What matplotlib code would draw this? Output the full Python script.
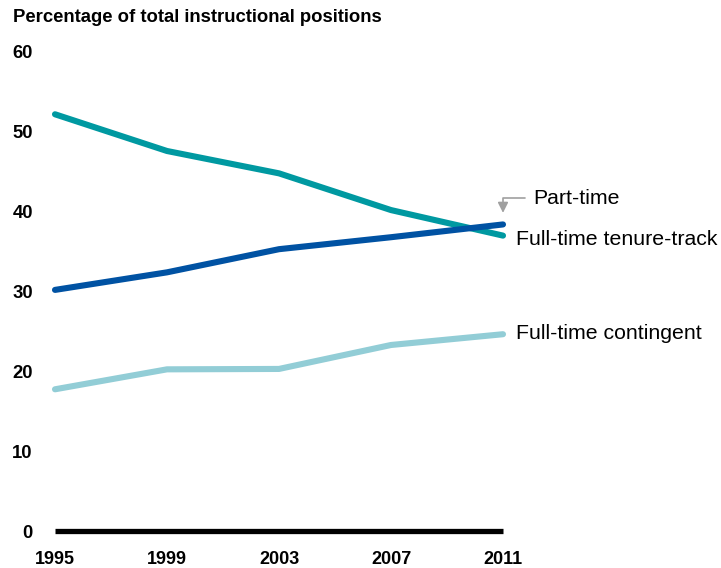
import matplotlib
matplotlib.use("Agg")
import matplotlib.pyplot as plt

plt.rcParams['font.family'] = ['Liberation Sans', 'DejaVu Sans']

years = [1995, 1999, 2003, 2007, 2011]
tenure_track = [52.2, 47.6, 44.8, 40.2, 37.0]
part_time = [30.2, 32.4, 35.3, 36.8, 38.4]
contingent = [17.75, 20.25, 20.3, 23.3, 24.65]
yticks = [0, 10, 20, 30, 40, 50, 60]
title = "Percentage of total instructional positions"

c_teal = "#0099A1"
c_dark = "#0052A3"
c_light = "#92CDD6"

fig = plt.figure(figsize=(7.21, 5.68), dpi=100)
ax = fig.add_axes([55/721, (568-531)/568, 448/721, (531-52)/568])
ax.set_xlim(1995, 2011)
ax.set_ylim(0, 60)

lw = 4.4
ax.plot(years, contingent, color=c_light, lw=lw, solid_capstyle='round', clip_on=False)
ax.plot(years, tenure_track, color=c_teal, lw=lw, solid_capstyle='round', clip_on=False)
ax.plot(years, part_time, color=c_dark, lw=lw, solid_capstyle='round', clip_on=False)
ax.plot([years[0], years[-1]], [0, 0], color='black', lw=3.8, solid_capstyle='butt', clip_on=False)

for s in ax.spines.values():
    s.set_visible(False)
ax.set_xticks(years)
ax.set_xticklabels([str(y) for y in years], fontweight='bold', fontsize=13)
ax.set_yticks(yticks)
ax.set_yticklabels([str(v) for v in yticks], fontweight='bold', fontsize=13.3)
ax.tick_params(length=0)
ax.tick_params(axis='x', pad=14.5)
ax.tick_params(axis='y', pad=16)

fig.text(13/721, 1 - 17/568, title, fontsize=13.3, fontweight='bold', ha='left', va='center')

ax.text(2011.46, tenure_track[-1] - 0.5, "Full-time tenure-track", fontsize=15.3, ha='left', va='center')
ax.text(2011.46, contingent[-1] + 0.15, "Full-time contingent", fontsize=15.3, ha='left', va='center')
ax.annotate("Part-time", xy=(2011.0, 39.85), xytext=(2012.07, 41.7), fontsize=15.3,
            ha='left', va='center', annotation_clip=False,
            arrowprops=dict(arrowstyle='-|>,head_length=0.4,head_width=0.2', color='#A0A0A0', lw=1.2,
                            connectionstyle='angle,angleA=180,angleB=90,rad=0',
                            relpos=(0, 0.5), shrinkA=4, shrinkB=0))

fig.savefig("out.png", dpi=100)
